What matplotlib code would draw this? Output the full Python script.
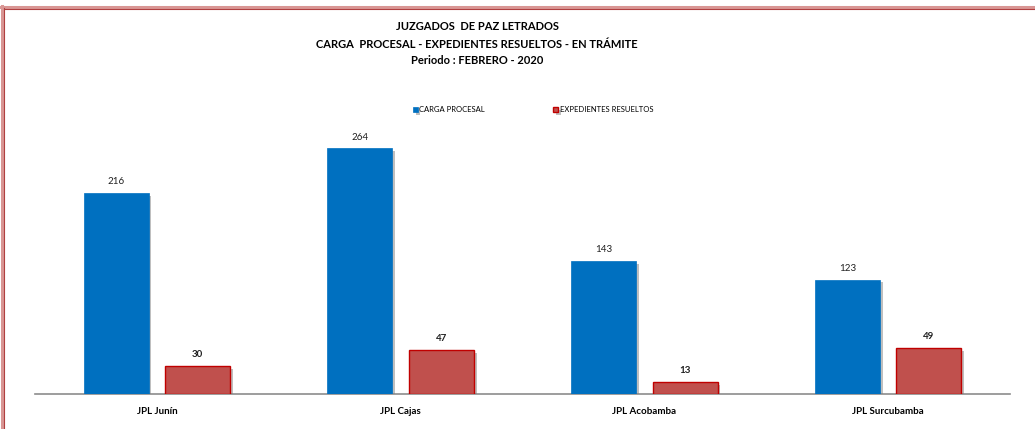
import matplotlib
matplotlib.use("Agg")
import matplotlib.pyplot as plt
import matplotlib.patheffects as pe
from matplotlib.lines import Line2D
import numpy as np

categories = ["JPL Junín", "JPL Cajas", "JPL Acobamba", "JPL Surcubamba"]
carga_procesal = [216, 264, 143, 123]
expedientes_resueltos = [30, 47, 13, 49]
series_names = ["CARGA PROCESAL", "EXPEDIENTES RESUELTOS"]
title_lines = ["JUZGADOS  DE PAZ LETRADOS",
               "CARGA  PROCESAL - EXPEDIENTES RESUELTOS - EN TRÁMITE",
               "Periodo : FEBRERO - 2020"]

W, H = 1035, 429
fig = plt.figure(figsize=(W / 100, H / 100), dpi=100)
fig.patch.set_facecolor("white")

FONT = ["Lato", "DejaVu Sans"]
ax_l, ax_r, ax_b, ax_t = 35, 1010, 394, 115
ax = fig.add_axes([ax_l / W, (H - ax_b) / H, (ax_r - ax_l) / W, (ax_b - ax_t) / H])

x = np.arange(len(categories))
bw = 0.267
off = 0.167
shadow = [pe.SimplePatchShadow(offset=(2, -2), shadow_rgbFace="#808080", alpha=0.5), pe.Normal()]
b1 = ax.bar(x - off, carga_procesal, bw, color="#0070C0", edgecolor="#0070C0",
            linewidth=0.5, label=series_names[0], path_effects=shadow, zorder=3)
b2 = ax.bar(x + off, expedientes_resueltos, bw, color="#C0504D", edgecolor="#C00000",
            linewidth=1.0, label=series_names[1], path_effects=shadow, zorder=3)

for rect, v in zip(b1, carga_procesal):
    ax.annotate(str(v), (rect.get_x() + rect.get_width() / 2, v), xytext=(0, 5),
                textcoords="offset points", ha="center", va="bottom",
                fontsize=7, family=FONT, color="#202020")
for rect, v in zip(b2, expedientes_resueltos):
    ax.annotate(str(v), (rect.get_x() + rect.get_width() / 2, v), xytext=(0, 5),
                textcoords="offset points", ha="center", va="bottom",
                fontsize=7, family=FONT, fontweight="bold", color="#202020")

ax.set_xlim(-0.5, len(categories) - 0.5)
ax.set_ylim(0, 300)
ax.set_xticks(x)
ax.set_xticklabels(categories, fontsize=7, fontweight="bold", family=FONT)
ax.tick_params(axis="x", length=0, pad=9)
ax.set_yticks([])
for s in ["top", "right", "left"]:
    ax.spines[s].set_visible(False)
ax.spines["bottom"].set_color("#8C8C8C")
ax.spines["bottom"].set_linewidth(1.2)

# Title
for i, (line, yy) in enumerate(zip(title_lines, [27, 44, 61])):
    fig.text(477 / W, 1 - yy / H, line, ha="center", va="center",
             fontsize=8, fontweight="bold", family=FONT)

# Legend
leg = fig.legend(handles=[b1, b2], labels=series_names, loc="center",
                 bbox_to_anchor=(533 / W, 1 - 110 / H), ncol=2, frameon=False,
                 prop={"family": FONT, "size": 5.5}, handlelength=0.6, handleheight=0.6,
                 handletextpad=0.2, columnspacing=9)

# Border (top and left)
fig.add_artist(Line2D([1 / W, 1], [1 - 7 / H, 1 - 7 / H], color="#D99694", lw=2.2,
                      transform=fig.transFigure))
fig.add_artist(Line2D([3 / W, 1], [1 - 8.5 / H, 1 - 8.5 / H], color="#B04040", lw=0.8,
                      transform=fig.transFigure))
fig.add_artist(Line2D([2 / W, 2 / W], [0, 1 - 6 / H], color="#D99694", lw=2.2,
                      transform=fig.transFigure))
fig.add_artist(Line2D([4 / W, 4 / W], [0, 1 - 8 / H], color="#B04040", lw=0.8,
                      transform=fig.transFigure))

fig.savefig("out.png", dpi=100, facecolor="white")
